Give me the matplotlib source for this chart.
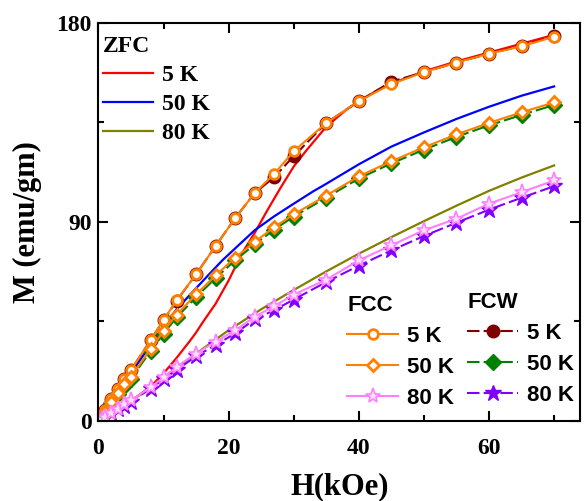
import numpy as np
import matplotlib
matplotlib.use("Agg")
from matplotlib import pyplot as plt
from matplotlib.ticker import MultipleLocator

# ZFC curves (lines only)
h_zfc5 = [0, 2, 4, 6, 8, 10, 12, 14, 15, 16, 18, 20, 21, 22, 24, 26, 28, 30, 32, 35,
          38, 40, 42, 45, 50, 55, 60, 65, 70]
m_zfc_5k = [0, 3.6, 7.3, 11.2, 15.5, 21.5, 28.5, 36, 40, 44.5, 53, 63.5, 69.5, 75.5, 85,
            95.5, 105.5, 115, 122.5, 133, 140.5, 144.5, 148, 152.5, 158, 162.5, 166.5,
            170.5, 174.5]
h_zfc50 = [0, 2, 5, 8, 10, 12, 15, 17, 19, 21, 24, 27, 30, 33, 35, 40, 45, 50, 55, 60,
           65, 70]
m_zfc_50k = [0, 8.8, 21.5, 34.5, 42.5, 50.5, 60, 66.3, 72.5, 78, 86.2, 92.5, 98.2, 103.8,
             107.2, 116, 124, 130.4, 136.5, 142, 147, 151.2]
h_zfc80 = [0, 5, 10, 15, 20, 25, 30, 35, 40, 45, 50, 55, 60, 65, 70]
m_zfc_80k = [0, 9, 19.5, 30.5, 41, 50.5, 59.2, 67.6, 75.6, 83.1, 90.3, 97.3, 104, 110, 115.5]

# FCC / FCW data points
h = [0, 0.5, 1, 2, 3, 4, 5, 8, 10, 12, 15, 18, 21, 24, 27, 30, 35, 40, 45, 50, 55, 60, 65, 70]
fcc_5k = [0, 2.5, 5, 10, 14.5, 19, 23, 36.5, 45.7, 54.5, 66.3, 79.1, 91.7, 103, 111.7, 121.9,
          134.7, 144.5, 152.3, 157.6, 162, 166, 169.3, 173.7]
fcw_5k = [0, 2.5, 5, 10, 14.5, 19, 23, 36.5, 45.5, 54.3, 66.3, 79.1, 91.7, 103, 110.2, 119.7,
          134.7, 144.5, 153.4, 157.6, 162, 166, 169.5, 173.9]
fcc_50k = [0, 2, 4.2, 8.5, 12.5, 16.5, 20, 32.5, 40.6, 48, 57.2, 65.8, 73.8, 80.9, 87.6, 93.4,
           101.9, 110.6, 117.4, 123.7, 129.5, 134.7, 139.5, 144]
fcw_50k = [0, 1.8, 3.8, 8, 12, 15.8, 19.2, 31.5, 39.5, 46.8, 56, 64.6, 72.6, 79.8, 86.5, 92.4,
           100.9, 109.6, 116.4, 122.6, 128.4, 133.6, 138.3, 142.8]
fcc_80k = [0, 0.9, 1.8, 3.7, 5.6, 7.5, 9.3, 15.2, 19.7, 24.5, 30.5, 35.8, 41, 47.1, 51.9, 57.1,
           63.9, 72.6, 79.4, 86.2, 91.4, 98.2, 103.4, 108.7]
fcw_80k = [0, 0.8, 1.6, 3.4, 5.2, 7, 8.8, 14.6, 19, 23, 29.3, 34.3, 39.6, 45.9, 50.1, 54.9,
           62.8, 70.2, 77.1, 83.6, 89.6, 95.5, 100.9, 106.1]

serif = "Liberation Serif"
sans = "Liberation Sans"

fig = plt.figure(figsize=(5.86, 5.01), dpi=100)
ax = fig.add_axes([0.168, 0.1597, 0.822, 0.795])

# ZFC
l1, = ax.plot(h_zfc5, m_zfc_5k, color="#ff0000", lw=1.6, label="5 K")
l2, = ax.plot(h_zfc50, m_zfc_50k, color="#0000ff", lw=1.6, label="50 K")
l3, = ax.plot(h_zfc80, m_zfc_80k, color="#808000", lw=1.6, label="80 K")

# FCW (behind)
w1, = ax.plot(h, fcw_5k, color="#800000", ls=(0, (6, 2)), lw=1.5, marker="o", ms=9,
              mfc="#800000", mec="#800000", label="5 K")
w2, = ax.plot(h, fcw_50k, color="#008000", ls=(0, (6, 2)), lw=1.5, marker="D", ms=8,
              mfc="#008000", mec="#008000", label="50 K")
w3, = ax.plot(h, fcw_80k, color="#8000ff", ls=(0, (6, 2)), lw=1.5, marker="*", ms=12,
              mfc="#8000ff", mec="#8000ff", label="80 K")

# FCC (front)
c1, = ax.plot(h, fcc_5k, color="#ff8000", lw=1.5, marker="o", ms=7, mfc="white",
              mec="#ff8000", mew=2, label="5 K")
c2, = ax.plot(h, fcc_50k, color="#ff8000", lw=1.5, marker="D", ms=6.5, mfc="white",
              mec="#ff8000", mew=2, label="50 K")
c3, = ax.plot(h, fcc_80k, color="#ff80ff", lw=1.5, marker="*", ms=11, mfc="#ffe0ff",
              mec="#ff80ff", mew=1.2, label="80 K")

ax.set_xlim(0, 74)
ax.set_ylim(0, 180)
ax.xaxis.set_major_locator(MultipleLocator(20))
ax.xaxis.set_minor_locator(MultipleLocator(10))
ax.yaxis.set_major_locator(MultipleLocator(90))
ax.yaxis.set_minor_locator(MultipleLocator(45))
ax.tick_params(which="both", direction="in", top=True, right=True, width=1.5)
ax.tick_params(which="major", length=7)
ax.tick_params(which="minor", length=4.5)
ax.tick_params(axis="x", which="major", pad=12)
ax.tick_params(axis="y", which="major", pad=5)
for s in ax.spines.values():
    s.set_linewidth(1.5)
for lab in ax.get_xticklabels() + ax.get_yticklabels():
    lab.set_fontfamily(serif)
    lab.set_fontweight("bold")
    lab.set_fontsize(17)

ax.set_xlabel("H(kOe)", fontfamily=serif, fontweight="bold", fontsize=22, labelpad=10)
ax.set_ylabel("M (emu/gm)", fontfamily=serif, fontweight="bold", fontsize=22, labelpad=10)

leg1 = ax.legend([l1, l2, l3], ["5 K", "50 K", "80 K"], title="ZFC", loc="upper left",
                 bbox_to_anchor=(-0.025, 1.008), frameon=False, alignment="left",
                 prop={"family": serif, "weight": "bold", "size": 17},
                 title_fontproperties={"family": serif, "weight": "bold", "size": 17},
                 handlelength=2.1, handletextpad=0.4, labelspacing=0.32, borderaxespad=0.3)
ax.add_artist(leg1)

leg2 = ax.legend([c1, c2, c3], ["5 K", "50 K", "80 K"], title="FCC", loc="lower left",
                 bbox_to_anchor=(0.475, -0.02), frameon=False, alignment="left",
                 numpoints=1, prop={"family": sans, "weight": "bold", "size": 16},
                 title_fontproperties={"family": sans, "weight": "bold", "size": 16},
                 handlelength=2.3, handletextpad=0.4, labelspacing=0.45)
ax.add_artist(leg2)

leg3 = ax.legend([w1, w2, w3], ["5 K", "50 K", "80 K"], title="FCW", loc="lower left",
                 bbox_to_anchor=(0.724, -0.012), frameon=False, alignment="left",
                 numpoints=1, prop={"family": sans, "weight": "bold", "size": 16},
                 title_fontproperties={"family": sans, "weight": "bold", "size": 16},
                 handlelength=2.3, handletextpad=0.4, labelspacing=0.45)

fig.savefig("out.png", dpi=100)
